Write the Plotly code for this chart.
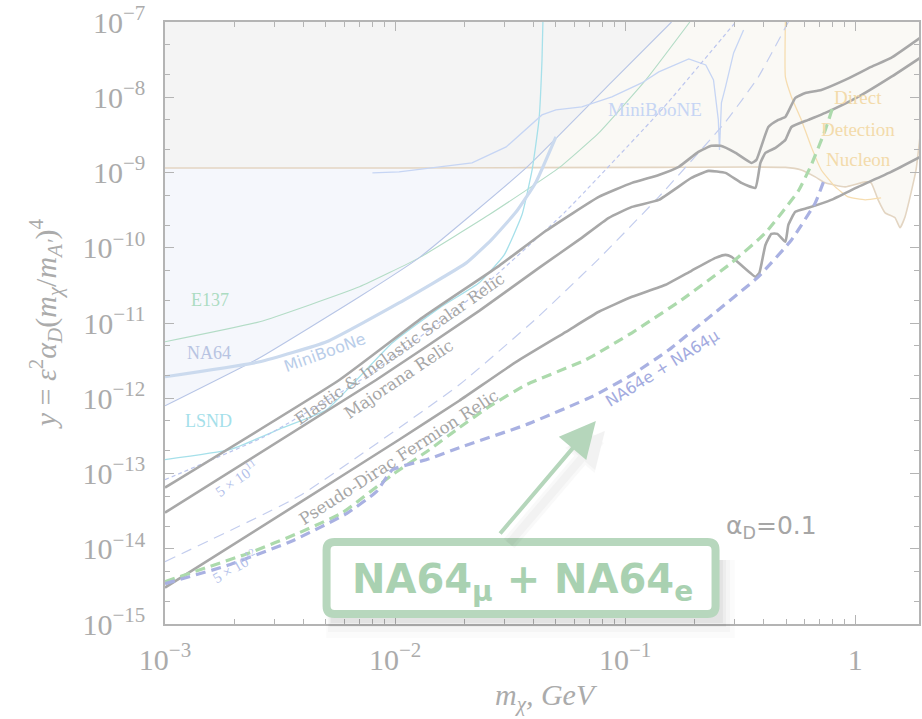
import plotly.graph_objects as go

# ---------------- data (m_chi in GeV, y dimensionless) ----------------
relic_scalar_m = [1.0e-3, 5.74e-3, 1.31e-2, 2.83e-2, 4.53e-2, 7.68e-2, 0.107, 0.140, 0.171, 0.208, 0.237,
                  0.260, 0.302, 0.354, 0.372, 0.419, 0.463, 0.497, 0.549, 0.607, 0.712, 0.904, 1.172, 1.431, 1.911]
relic_scalar_y = [6.5e-14, 1.76e-12, 1.17e-11, 5.75e-11, 1.68e-10, 4.74e-10, 7.28e-10, 9.29e-10, 1.19e-9, 1.88e-9,
                  2.26e-9, 2.26e-9, 1.82e-9, 1.34e-9, 1.47e-9, 4.03e-9, 5.0e-9, 5.48e-9, 9.79e-9, 1.14e-8,
                  1.25e-8, 1.70e-8, 2.53e-8, 3.33e-8, 6.13e-8]

relic_majorana_m = [1.0e-3, 8.30e-3, 2.32e-2, 4.22e-2, 6.29e-2, 8.49e-2, 0.107, 0.140, 0.194, 0.230, 0.273, 0.320,
                    0.368, 0.387, 0.407, 0.450, 0.497, 0.528, 0.625, 0.741, 1.029, 1.431, 1.911]
relic_majorana_y = [3.02e-14, 1.76e-12, 1.45e-11, 5.41e-11, 1.27e-10, 2.50e-10, 3.49e-10, 4.33e-10, 8.48e-10,
                    1.05e-9, 9.88e-10, 7.28e-10, 6.25e-10, 1.34e-9, 1.82e-9, 2.12e-9, 2.71e-9, 4.03e-9, 5.0e-9,
                    6.19e-9, 1.01e-8, 1.86e-8, 3.33e-8]

relic_pdirac_m = [1.0e-3, 3.85e-3, 1.04e-2, 1.90e-2, 3.36e-2, 5.53e-2, 7.68e-2, 0.107, 0.150, 0.194, 0.247, 0.273,
                  0.290, 0.368, 0.383, 0.407, 0.432, 0.459, 0.497, 0.512, 0.549, 0.625, 0.786, 1.029, 1.431, 1.911]
relic_pdirac_y = [3.04e-15, 4.10e-14, 2.81e-13, 9.27e-13, 3.05e-12, 7.64e-12, 1.41e-11, 2.23e-11, 3.22e-11,
                  4.94e-11, 7.34e-11, 8.05e-11, 7.57e-11, 4.11e-11, 4.64e-11, 1.09e-10, 1.53e-10, 1.53e-10,
                  1.20e-10, 2.01e-10, 3.0e-10, 3.39e-10, 4.33e-10, 6.44e-10, 1.02e-9, 1.61e-9]

na64mu_m = [1.0e-3, 2.34e-3, 3.85e-3, 5.91e-3, 9.73e-3, 1.41e-2, 1.90e-2, 2.56e-2, 3.71e-2, 6.75e-2, 0.107,
            0.176, 0.290, 0.407, 0.566, 0.644, 0.741, 0.802]
na64mu_y = [3.66e-15, 8.88e-15, 1.64e-14, 3.02e-14, 9.64e-14, 2.07e-13, 4.06e-13, 7.71e-13, 1.51e-12, 3.25e-12,
            7.41e-12, 2.03e-11, 6.30e-11, 1.58e-10, 5.70e-10, 1.26e-9, 3.68e-9, 7.66e-9]

na64e_mu_m = [1.0e-3, 1.86e-3, 3.59e-3, 6.15e-3, 8.30e-3, 9.73e-3, 1.41e-2, 1.90e-2, 3.71e-2, 7.17e-2, 0.107,
              0.155, 0.230, 0.379, 0.528, 0.670, 0.741]
na64e_mu_y = [3.44e-15, 5.97e-15, 1.28e-14, 2.93e-14, 5.73e-14, 1.12e-13, 1.57e-13, 2.20e-13, 4.45e-13,
              1.05e-12, 2.05e-12, 4.41e-12, 1.17e-11, 4.11e-11, 1.27e-10, 3.95e-10, 8.74e-10]

dotted_5e11_m = [1.0e-3, 2.71e-3, 7.36e-3, 2.0e-2, 5.42e-2, 0.147, 0.302]
dotted_5e11_y = [8.28e-14, 3.11e-13, 1.88e-12, 1.84e-11, 2.89e-10, 7.32e-9, 1.0e-7]

dashed_5e12_m = [1.0e-3, 3.85e-3, 1.90e-2, 4.10e-2, 7.68e-2, 0.140, 0.273, 0.379, 0.512]
dashed_5e12_y = [6.74e-15, 5.07e-14, 1.51e-12, 1.14e-11, 7.12e-11, 4.74e-10, 4.70e-9, 1.86e-8, 1.0e-7]

na64_m = [1.0e-3, 2.58e-3, 7.00e-3, 1.27e-2, 3.71e-2, 8.75e-2, 0.159]
na64_y = [7.95e-13, 3.45e-12, 2.23e-11, 7.34e-11, 1.15e-9, 1.60e-8, 1.0e-7]

e137_m = [1.0e-3, 2.58e-3, 7.00e-3, 1.27e-2, 2.56e-2, 5.15e-2, 7.68e-2, 0.123, 0.191]
e137_y = [5.63e-12, 1.04e-11, 3.03e-11, 7.34e-11, 2.74e-10, 1.15e-9, 3.36e-9, 1.70e-8, 1.0e-7]

lsnd_m = [1.0e-3, 1.91e-3, 3.25e-3, 5.04e-3, 9.73e-3, 1.56e-2, 2.32e-2, 2.98e-2, 3.56e-2, 3.94e-2, 4.22e-2,
          4.35e-2, 4.39e-2]
lsnd_y = [1.53e-13, 2.07e-13, 4.06e-13, 7.04e-13, 5.46e-12, 1.59e-11, 3.42e-11, 8.05e-11, 2.74e-10, 1.08e-9,
          5.0e-9, 3.13e-8, 1.0e-7]

miniboone_dm_m = [1.0e-3, 2.58e-3, 5.04e-3, 1.04e-2, 2.04e-2, 2.62e-2, 3.36e-2, 4.10e-2, 5.00e-2]
miniboone_dm_y = [1.93e-12, 3.05e-12, 5.63e-12, 1.85e-11, 6.30e-11, 1.27e-10, 3.0e-10, 7.50e-10, 2.97e-9]

miniboone_m = [7.97e-3, 1.04e-2, 2.16e-2, 3.04e-2, 4.35e-2, 5.00e-2, 6.48e-2, 8.75e-2, 0.118, 0.140, 0.189,
               0.224, 0.242, 0.254, 0.257, 0.262, 0.273, 0.296, 0.327]
miniboone_y = [9.88e-10, 1.02e-9, 1.34e-9, 2.19e-9, 5.82e-9, 6.78e-9, 7.43e-9, 1.01e-8, 1.55e-8, 2.17e-8,
               3.23e-8, 2.69e-8, 1.70e-8, 5.0e-9, 2.0e-9, 8.40e-9, 1.37e-8, 3.88e-8, 7.83e-8]

upper_bound_m = [1.0e-3, 1.04e-2, 0.140, 0.497, 0.583, 0.670, 0.741, 0.904, 1.104, 1.172, 1.257, 1.348, 1.489,
                 1.565, 1.645, 1.747, 1.837, 1.911]
upper_bound_y = [1.15e-9, 1.15e-9, 1.17e-9, 1.17e-9, 1.08e-9, 8.74e-10, 7.28e-10, 6.44e-10, 7.50e-10, 7.28e-10,
                 4.33e-10, 2.91e-10, 2.50e-10, 1.84e-10, 2.57e-10, 5.36e-10, 1.08e-9, 2.97e-9]

direct_det_m = [0.497, 0.497, 0.528, 0.583, 0.644, 0.712, 0.818, 0.932, 1.104, 1.295]
direct_det_y = [1.0e-7, 1.86e-8, 1.01e-8, 5.0e-9, 2.19e-9, 1.08e-9, 6.44e-10, 4.74e-10, 4.33e-10, 4.60e-10]

x_tick_vals = [1e-3, 1e-2, 1e-1, 1]
x_tick_text = ["10<sup>\u22123</sup>", "10<sup>\u22122</sup>", "10<sup>\u22121</sup>", "1"]
y_tick_vals = [1e-15, 1e-14, 1e-13, 1e-12, 1e-11, 1e-10, 1e-9, 1e-8, 1e-7]
y_tick_text = ["10<sup>\u2212%d</sup>" % k for k in range(15, 6, -1)]

X_MIN, X_MAX, Y_MIN, Y_MAX = 1e-3, 2.0, 1e-15, 1e-7

fig = go.Figure()


def fill(xs, ys, color):
    fig.add_trace(go.Scatter(x=xs, y=ys, mode="lines", fill="toself", fillcolor=color,
                             line=dict(width=0), hoverinfo="skip", showlegend=False))


def line(xs, ys, color, width, dash=None, smooth=True):
    shape = dict(shape="spline", smoothing=0.4) if smooth else dict(shape="linear")
    fig.add_trace(go.Scatter(x=xs, y=ys, mode="lines", hoverinfo="skip", showlegend=False,
                             line=dict(color=color, width=width, dash=dash, **shape)))


# shaded regions
fill([X_MIN] + na64_m[4::-1], [upper_bound_y[0]] + na64_y[4::-1], "#f5f7fc")
fill([X_MIN] + na64_m[6:3:-1] + [X_MIN], [Y_MAX] + na64_y[6:3:-1] + [upper_bound_y[0]], "#f4f4f4")
tan_r = [(m, v) for m, v in zip(upper_bound_m, upper_bound_y) if m > na64_m[4]][::-1]
fill([na64_m[6], X_MAX, X_MAX] + [p[0] for p in tan_r] + na64_m[4:7],
     [Y_MAX, Y_MAX, upper_bound_y[-1]] + [p[1] for p in tan_r] + na64_y[4:7], "#faf9f5")

# thin constraint curves
line(upper_bound_m, upper_bound_y, "#e3d5c2", 1.6)
line(direct_det_m, direct_det_y, "#f6ddb0", 1.3)
line(e137_m, e137_y, "#b3dcc6", 1.1)
line(na64_m, na64_y, "#b7c5e6", 1.1)
line(lsnd_m, lsnd_y, "#a6e0ea", 1.3)
line(miniboone_m, miniboone_y, "#c6d5f4", 1.3, smooth=False)
line(miniboone_dm_m, miniboone_dm_y, "#cbdaee", 3.2)
line(dotted_5e11_m, dotted_5e11_y, "#bcc6ee", 1.2, "4px,3px")
line(dashed_5e12_m, dashed_5e12_y, "#c3cdee", 1.2, "11px,7px")

# relic targets
line(relic_scalar_m, relic_scalar_y, "#a8a8a8", 2.6)
line(relic_majorana_m, relic_majorana_y, "#a8a8a8", 2.6)
line(relic_pdirac_m, relic_pdirac_y, "#a8a8a8", 2.6)

# NA64 projections
line(na64mu_m, na64mu_y, "#acdaac", 3.2, "10px,6px")
line(na64e_mu_m, na64e_mu_y, "#a9b1e2", 3.2, "10px,6px")

W, H = 922, 719
ML, MR, MT, MB = 165, 1, 22, 95
PW, PH = W - ML - MR, H - MT - MB


def px(xp):
    return (xp - ML) / PW


def py(yp):
    return 1 - (yp - MT) / PH


AX = "#b4b4b4"
TXT = "#ababab"
serif = "Liberation Serif"
dserif = "DejaVu Serif"
sans = "DejaVu Sans"

x_minor = [d * 10.0 ** e for e in range(-3, 1) for d in range(2, 10) if d * 10.0 ** e < 1.9]
y_minor = [d * 10.0 ** e for e in range(-15, -7) for d in (2, 5)]

common = dict(type="log", showgrid=False, zeroline=False, showline=True, linecolor=AX, linewidth=1.5,
              mirror="allticks", ticks="inside", ticklen=9, tickwidth=1.2, tickcolor=AX,
              tickfont=dict(family=serif, size=30, color=TXT))
fig.update_xaxes(range=[-3, 0.277], tickvals=x_tick_vals, ticktext=x_tick_text, ticklabelstandoff=8,
                 minor=dict(tickvals=x_minor, ticks="inside", ticklen=5, tickcolor=AX, tickwidth=1),
                 **common)
fig.update_yaxes(range=[-15, -7], tickvals=y_tick_vals, ticktext=y_tick_text, ticklabelstandoff=12,
                 minor=dict(tickvals=y_minor, ticks="inside", ticklen=5, tickcolor=AX, tickwidth=1),
                 **common)

ann = []


def label(x, y, text, size, color, family=serif, angle=0, xanchor="center"):
    ann.append(dict(x=px(x), y=py(y), xref="paper", yref="paper", text=text, showarrow=False,
                    textangle=angle, xanchor=xanchor, yanchor="middle",
                    font=dict(family=family, size=size, color=color)))


label(210, 300, "E137", 18, "#acdcc2")
label(209, 353, "NA64", 18, "#b8c4e2")
label(209, 421, "LSND", 18, "#a4e0ea")
label(325, 352, "MiniBooNe", 16, "#b9cde9", family=sans, angle=-20)
label(401, 349, "Elastic &amp; Inelastic Scalar Relic", 16, "#a6a6a6", family=dserif, angle=-35)
label(399, 379, "Majorana Relic", 16.5, "#a6a6a6", family=dserif, angle=-34)
label(399, 457, "Pseudo-Dirac Fermion Relic", 16.5, "#a6a6a6", family=dserif, angle=-33)
label(237, 478, "5 \u00d7 10<sup>11</sup>", 15, "#b3bfea", angle=-35)
label(235, 566, "5 \u00d7 10<sup>12</sup>", 15, "#b3bfea", angle=-30)
label(663, 368, "NA64e + NA64\u03bc", 16, "#a3abe0", family=sans, angle=-32)
label(656, 109, "MiniBooNE", 19, "#c6d5f4")
label(860, 98, "Direct", 19, "#f3dbab")
label(860, 129, "Detection", 19, "#f3dbab")
label(860, 159, "Nucleon", 19, "#f3dbab")
label(725, 527, "\u03b1<sub>D</sub>=0.1", 25, "#a6a6a6", family=sans, xanchor="left")

# axis titles
ann.append(dict(x=px(45), y=py(324), xref="paper", yref="paper", showarrow=False, textangle=-90,
                xanchor="center", yanchor="middle",
                text="<i>y</i> = <i>\u03b5</i><sup>2</sup><i>\u03b1</i><sub><i>D</i></sub>(<i>m</i><sub><i>\u03c7</i></sub>/<i>m</i><sub><i>A\u2032</i></sub>)<sup>4</sup>",
                font=dict(family=serif, size=30, color=TXT)))
ann.append(dict(x=px(548), y=py(697), xref="paper", yref="paper", showarrow=False,
                xanchor="center", yanchor="middle",
                text="<i>m</i><sub><i>\u03c7</i></sub><i>, GeV</i>",
                font=dict(family=serif, size=30, color=TXT)))

# arrow soft shadow + arrow
for w, s, c in [(14, 0.55, "rgba(0,0,0,0.018)"), (8, 0.9, "rgba(0,0,0,0.025)")]:
    ann.append(dict(x=px(606), y=py(431), xref="paper", yref="paper", text="", showarrow=True,
                    ax=-97, ay=114, arrowhead=2, arrowsize=s, arrowwidth=w, arrowcolor=c, standoff=0))
ann.append(dict(x=px(597), y=py(421), xref="paper", yref="paper", text="", showarrow=True,
                ax=-97, ay=114, arrowhead=2, arrowsize=1.8, arrowwidth=4, arrowcolor="#b5d6bb",
                standoff=0))

# box text
ann.append(dict(x=px(523), y=py(582), xref="paper", yref="paper", showarrow=False,
                xanchor="center", yanchor="middle",
                text="<b>NA64<sub>\u03bc</sub> + NA64<sub>e</sub></b>",
                font=dict(family=sans, size=40, color="#a9d1b1")))

shapes = []
# soft shadow under the box
for grow, op in [(18, 0.016), (12, 0.022), (7, 0.03), (3, 0.04)]:
    shapes.append(dict(type="rect", xref="paper", yref="paper", layer="above",
                       x0=px(332 - grow * 0.3), x1=px(722 + grow * 0.8), y0=py(620 + grow),
                       y1=py(560),
                       fillcolor="rgba(0,0,0,%.3f)" % op, line=dict(width=0)))
L, R, T, B = px(327), px(717), py(542), py(614)
rx, ry = 8 / PW, 8 / PH
path = (f"M {L+rx},{T} L {R-rx},{T} Q {R},{T} {R},{T-ry} L {R},{B+ry} Q {R},{B} {R-rx},{B} "
        f"L {L+rx},{B} Q {L},{B} {L},{B+ry} L {L},{T-ry} Q {L},{T} {L+rx},{T} Z")
shapes.append(dict(type="path", xref="paper", yref="paper", layer="above", path=path,
                   fillcolor="white", line=dict(color="#b7d7bd", width=8)))

fig.update_layout(width=W, height=H, margin=dict(l=ML, r=MR, t=MT, b=MB),
                  paper_bgcolor="white", plot_bgcolor="white", showlegend=False,
                  annotations=ann, shapes=shapes)

fig.write_html("out.html")
